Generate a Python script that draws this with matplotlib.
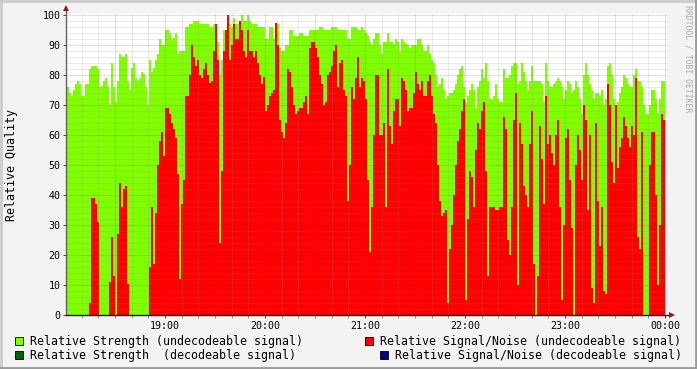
import matplotlib
matplotlib.use("Agg")
import matplotlib.pyplot as plt
import numpy as np
from matplotlib.patches import Rectangle

# ---------------- data ----------------
START_MIN = 1.2          # first sample, minutes after 18:00
STEP_MIN = 1.2           # sample step (72 s)

strength = [
    76, 74, 73, 75, 77, 78, 77, 73, 73, 77,
    77, 82, 83, 83, 83, 82, 76, 76.5, 78, 79,
    76, 70, 84, 76, 71, 78, 87, 86, 86, 87,
    78, 75, 82.5, 84, 79, 78, 79, 81, 80.5, 76,
    70, 85, 81, 82.5, 85, 87, 92, 90, 90, 95,
    95, 94, 92, 92.5, 94, 87, 88, 88, 88, 96,
    96, 97, 97, 98, 98, 98, 97, 97, 97, 97,
    97, 96, 96, 97, 97, 91, 80, 85, 95, 95,
    100, 97, 96, 99, 97, 97, 98, 100, 98, 98,
    100, 98, 97, 97, 97, 96, 96, 96, 96, 92,
    92, 96, 96, 92, 97.5, 97, 89, 88, 88, 90,
    90, 95, 95, 93, 93, 93, 94, 94, 93, 93,
    93, 95, 95, 95, 95, 95, 96, 96, 95, 95,
    95, 95, 96, 96, 96, 95, 95, 95, 95, 95,
    92, 92, 96, 96, 96, 95, 95, 96, 95, 94,
    93, 91, 90, 92, 94, 94, 90, 87, 91, 91,
    94, 91, 91, 90, 92, 91, 88, 92, 91, 90.5,
    90, 89, 90, 90, 90, 92, 92, 90, 88, 88,
    90, 87, 85, 84, 80, 76, 77, 79, 75, 72,
    73, 74, 74, 75, 77, 80, 82, 83, 76, 71,
    73, 75, 77, 75, 69, 76, 78, 82, 79, 84,
    78, 72, 72, 73, 77, 72, 71, 71, 82, 79,
    79, 80, 83, 84, 84, 77, 78, 84, 81, 78,
    75, 78, 83, 78, 78, 78, 78, 77, 71, 84,
    78, 76, 76, 77, 78, 79, 78, 76, 72, 75,
    78, 77, 74, 75, 78, 76, 72, 67, 80, 84,
    80, 77, 75, 72, 74, 74, 73, 75, 70, 72,
    83, 84, 80, 72, 70, 71, 74, 76, 80, 79,
    77, 76, 76, 80, 82, 78, 78, 76, 70, 67,
    67, 70, 75, 75, 72, 67, 72, 78, 78,
]

snr = [
    0, 0, 0, 0, 0, 0, 0, 0, 0, 0,
    0, 4, 39, 39, 37, 31, 0, 0, 0, 0,
    0, 11, 26, 13, 0, 27, 44, 36, 42, 43,
    10.5, 0, 0, 0, 0, 0, 0, 0, 0, 0,
    0, 16, 36, 17, 34, 50, 58, 61, 53, 69,
    69, 67, 64, 62, 59, 47, 12, 37, 45, 73,
    73, 80, 90, 86, 83, 85, 80, 79, 82, 84,
    80, 77.5, 78, 88, 97, 85, 24, 48, 88, 95,
    100, 85, 90, 97, 92, 92, 98, 95, 88, 86,
    95, 88, 88, 86, 88, 84, 80, 77, 79.5, 68,
    70, 73, 74, 75, 97.5, 90, 65, 61, 59, 64,
    82, 81, 76, 70, 67, 68, 69, 69, 71, 73,
    67, 89, 91, 91, 89, 86, 80, 77, 70, 71,
    80, 81, 83, 88, 90, 76, 84, 85, 75, 73,
    38, 50, 76, 72, 79, 86, 76, 79, 78, 72,
    45, 21, 36, 60, 80, 80, 60, 60, 64, 36,
    82, 63, 57, 68, 72, 72, 63, 79, 78, 75,
    68, 69, 69, 74, 81, 77, 75, 78, 73, 73,
    78, 80, 73, 67, 64, 50, 38, 33, 34, 35,
    4, 22, 30, 40, 50, 58, 62, 68, 72, 5,
    32, 48, 46, 36, 55, 64, 62, 68, 71, 48,
    13, 36, 36, 36, 35, 35, 36, 36, 66, 62,
    25, 20, 36, 65, 74, 10, 64, 57, 43, 40,
    36, 57, 68, 17, 0, 13, 63, 52, 37, 73,
    57, 60, 54, 50, 60, 65, 36, 5, 30, 59,
    62, 45, 29, 0, 50, 60, 55, 45, 70, 65,
    35, 60, 9, 4, 64, 38, 23, 36, 8, 7,
    77, 70, 51, 44, 70, 49, 56, 59, 66, 63,
    59, 56, 63, 60, 79, 26, 22, 61, 0, 0,
    0, 50, 61, 61, 40, 10, 30, 67, 65,
]

hour_ticks = [60, 120, 180, 240, 300, 360]
hour_labels = ["19:00", "20:00", "21:00", "22:00", "23:00", "00:00"]
y_ticks = [0, 10, 20, 30, 40, 50, 60, 70, 80, 90, 100]

legend_items = [
    ("Relative Strength (undecodeable signal)", "#80FF00"),
    ("Relative Strength  (decodeable signal)", "#006400"),
    ("Relative Signal/Noise (undecodeable signal)", "#FF0000"),
    ("Relative Signal/Noise (decodeable signal)", "#000090"),
]

# ---------------- figure ----------------
W, H = 697, 369
DPI = 100
plt.rcParams["font.family"] = ["DejaVu Sans Mono"]
fig = plt.figure(figsize=(W / DPI, H / DPI), dpi=DPI, facecolor="#F3F3F3")

# frame (3D style)
fig.add_artist(plt.Line2D([0, 1], [1 - 1 / H, 1 - 1 / H], color="#CBCBCB", lw=2, transform=fig.transFigure))
fig.add_artist(plt.Line2D([1 / W, 1 / W], [0, 1], color="#CBCBCB", lw=2, transform=fig.transFigure))
fig.add_artist(plt.Line2D([0, 1], [1 / H, 1 / H], color="#9A9A9A", lw=2, transform=fig.transFigure))
fig.add_artist(plt.Line2D([1 - 1 / W, 1 - 1 / W], [0, 1], color="#9A9A9A", lw=2, transform=fig.transFigure))

px_left, px_right, px_top, px_bottom = 66, 667, 13.5, 315
ax = fig.add_axes([px_left / W, (H - px_bottom) / H, (px_right - px_left) / W, (px_bottom - px_top) / H])
ax.set_facecolor("white")

xmin = (px_left - 65) * 0.6
xmax = (px_right - 65) * 0.6
ymax = (px_bottom - px_top) / 3.0
ax.set_xlim(xmin, xmax)
ax.set_ylim(0, ymax)

n = len(strength)
edges = START_MIN + STEP_MIN * np.arange(n + 1)
ax.stairs(strength, edges, fill=True, color="#80FF00", baseline=0, zorder=1, antialiased=False)
ax.stairs(snr, edges, fill=True, color="#FF0000", baseline=0, zorder=2, antialiased=False)

# grid on top
for yv in np.arange(2, 101, 2):
    if yv % 10 == 0:
        ax.axhline(yv, color="#821E1E", alpha=0.3, lw=0.72, ls=(0, (1, 1)), zorder=3)
    else:
        ax.axhline(yv, color="#8C8C8C", alpha=0.35, lw=0.72, ls=(0, (1, 1)), zorder=3)
for xv in np.arange(10, 361, 10):
    if xv % 30 == 0:
        ax.axvline(xv, color="#821E1E", alpha=0.3, lw=0.72, ls=(0, (1, 1)), zorder=3)
    else:
        ax.axvline(xv, color="#8C8C8C", alpha=0.35, lw=0.72, ls=(0, (1, 1)), zorder=3)

for s in ax.spines.values():
    s.set_visible(False)

# axes lines & arrows
ymax_arrow = (px_bottom - 10) / 3.0
xmax_arrow = (670 - 65) * 0.6
ax.plot([xmin, xmin], [0, ymax_arrow], color="#606060", lw=1, clip_on=False, zorder=5)
ax.plot([xmin, xmax_arrow], [0, 0], color="#1A1A3A", lw=1, clip_on=False, zorder=5)
ax.plot([xmin], [ymax_arrow + 0.8], marker="^", ms=4.5, color="#8B1A1A", clip_on=False, zorder=6, mew=0)
ax.plot([xmax_arrow + 1.2], [0], marker=">", ms=4.5, color="#8B1A1A", clip_on=False, zorder=6, mew=0)

ax.set_yticks(y_ticks)
ax.set_yticklabels([str(v) for v in y_ticks], fontsize=7.2)
ax.set_xticks(hour_ticks)
ax.set_xticklabels(hour_labels, fontsize=7.2)
ax.set_xticks(np.arange(10, 361, 10), minor=True)
ax.tick_params(axis="both", which="major", length=2, width=0.7, color="#821E1E", pad=2)
ax.tick_params(axis="x", which="minor", length=2, width=0.7, color="#8C8C8C")
ax.tick_params(axis="y", which="minor", length=0)

# y label
fig.text(12 / W, 1 - 165 / H, "Relative Quality", rotation=90, fontsize=8.4,
         ha="center", va="center")

# watermark
fig.text(688 / W, 1 - 5 / H, "RRDTOOL / TOBI OETIKER", rotation=270, fontsize=5.9,
         color="#A8A8A8", ha="center", va="top")

# legend
def legend_entry(x_sq, y_c, text, color):
    fig.add_artist(Rectangle(((x_sq) / W, (H - y_c - 4) / H), 8 / W, 8 / H,
                             transform=fig.transFigure, facecolor=color,
                             edgecolor="black", lw=0.6))
    fig.text((x_sq + 15) / W, (H - y_c) / H, text, fontsize=8.4, ha="left", va="center")

legend_entry(15, 341, legend_items[0][0], legend_items[0][1])
legend_entry(15, 355, legend_items[1][0], legend_items[1][1])
legend_entry(365, 341, legend_items[2][0], legend_items[2][1])
legend_entry(380, 355, legend_items[3][0], legend_items[3][1])

fig.savefig("out.png", dpi=DPI, facecolor=fig.get_facecolor())
